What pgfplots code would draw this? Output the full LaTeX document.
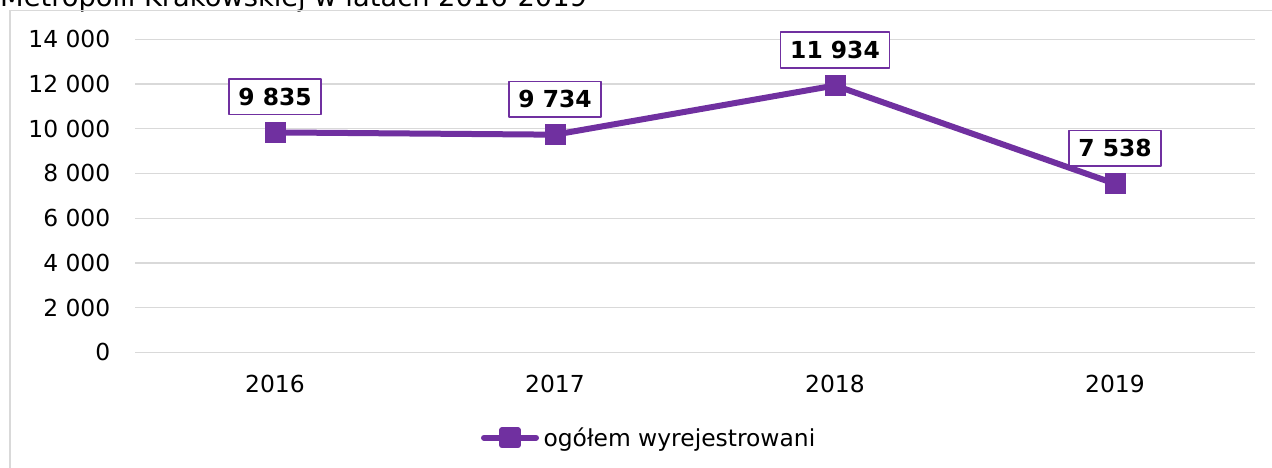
\documentclass[border=0pt]{standalone}
\usepackage{fontspec}
\setmainfont{DejaVu Sans}
\usepackage{pgfplots}
\pgfplotsset{compat=1.18}
\definecolor{purp}{HTML}{7030A0}
\definecolor{gridgray}{HTML}{D9D9D9}
\begin{document}
\begin{tikzpicture}
\path (0pt,0pt) rectangle (1272pt,468pt);
\node[overlay, anchor=base west, inner sep=0pt, font=\fontsize{27.3}{32}\selectfont] at (0pt,461.5pt) {Metropolii Krakowskiej w latach 2016-2019};
\draw[overlay, color=gridgray, line width=1.5pt] (9.8pt,-10pt) -- (9.8pt,457.5pt) -- (1290pt,457.5pt);
\begin{axis}[
  at={(135pt,115.7pt)}, anchor=south west,
  scale only axis, width=1120pt, height=313pt,
  xmin=-0.5, xmax=3.5, ymin=0, ymax=14000,
  xtick={0,1,2,3}, xticklabels={2016,2017,2018,2019},
  ytick={0,2000,...,14000},
  scaled y ticks=false,
  /pgf/number format/1000 sep={\ },
  /pgf/number format/assume math mode=true,
  axis line style={draw=none},
  tick style={draw=none},
  ymajorgrids, major grid style={color=gridgray, line width=1.3pt},
  tick label style={font=\fontsize{23.4}{28}\selectfont},
  yticklabel style={anchor=east, inner sep=0pt, xshift=-24.5pt},
  xticklabel style={anchor=base, inner sep=0pt, yshift=-40.2pt},
  clip=false,
  legend style={at={(0.30893,-0.27284)}, anchor=west, draw=none, fill=none,
    inner sep=0pt, outer sep=0pt, column sep=4.5pt,
    font=\fontsize{23.4}{28}\selectfont,
    nodes={inner sep=0pt}},
  legend image code/.code={
    \draw[color=purp, line width=6pt, line cap=round] (2pt,0pt) -- (54pt,0pt);
    \fill[purp] (20pt,-7.5pt) -- (36pt,-7.5pt) -- (36pt,7.5pt) -- (20pt,7.5pt) -- cycle;
  },
]
\addplot[color=purp, line width=6pt, line join=round,
  mark=square*, mark size=10pt, mark options={solid, fill=purp, draw=purp, line width=0pt},
  nodes near coords, point meta=explicit symbolic,
  every node near coord/.append style={anchor=center, yshift=35.5pt,
    draw=purp, fill=white, line width=1.5pt, text=black,
    font=\fontsize{23.4}{28}\selectfont\bfseries,
    text height=17pt, text depth=0pt, inner xsep=9.5pt, inner ysep=9.3pt}]
coordinates {
  (0,9835) [9 835]
  (1,9734) [9 734]
  (2,11934) [11 934]
  (3,7538) [7 538]
};
\addlegendentry{ogółem wyrejestrowani}
\end{axis}
\end{tikzpicture}
\end{document}
